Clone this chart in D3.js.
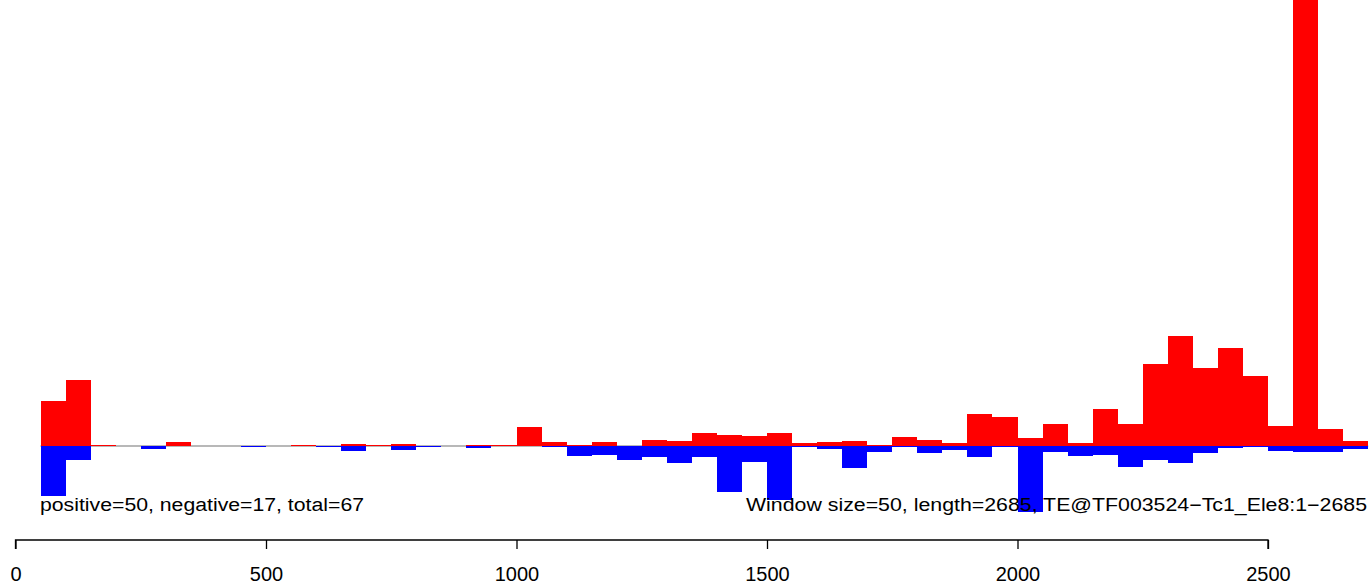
<!DOCTYPE html>
<html>
<head>
<meta charset="utf-8">
<script src="https://cdn.jsdelivr.net/npm/d3@7"></script>
<style>
html,body{margin:0;padding:0;background:#fff;}
svg{display:block;font-family:"Liberation Sans",Arial,Helvetica,sans-serif;}
</style>
</head>
<body>
<svg id="chart" width="1372" height="586"></svg>
<script>
// window starts (bp), window size 50
const binStarts = [0,50,100,150,200,250,300,350,400,450,500,550,600,650,700,750,800,850,900,950,
  1000,1050,1100,1150,1200,1250,1300,1350,1400,1450,1500,1550,1600,1650,1700,1750,1800,1850,1900,1950,
  2000,2050,2100,2150,2200,2250,2300,2350,2400,2450,2500,2550,2600,2650];
const windowSize = 50;
// positive-strand signal (up, red)
const positiveVals = [0,45,66,1,0,0,4,0,0,0,0,1,0,2,1,2,0,0,1,1,
  19,4,1,4,0,6,5,13,11,10,13,3,4,5,1,9,6,3,32,29,
  8,22,3,37,22,82,110,78,98,70,20,500,17,5];
// negative-strand signal (down, blue)
const negativeVals = [0,50,14,0,0,3,0,0,0,1,0,0,1,5,0,4,1,0,2,0,
  0,1,10,9,14,11,17,11,46,16,54,1,3,22,6,1,7,4,11,1,
  66,6,10,9,21,14,17,7,2,1,5,6,6,3];
const xTicks = [0,500,1000,1500,2000,2500];
const seqLength = 2685;
const leftLabel = "positive=50, negative=17, total=67";
const rightLabel = "Window size=50, length=2685, TE@TF003524\u2212Tc1_Ele8:1\u22122685";

const svg = d3.select("#chart");
const x = d3.scaleLinear().domain([0, 2500]).range([15.5, 1268]);
const y = d3.scaleLinear().domain([-140, 446]).range([586, 0]);

const data = binStarts.map((s,i)=>({s, pos:positiveVals[i], neg:negativeVals[i]}));

const plot = svg.append("g");
plot.append("defs").append("clipPath").attr("id","clip")
  .append("rect").attr("x",0).attr("y",0).attr("width",1372).attr("height",586);
const g = plot.append("g").attr("clip-path","url(#clip)");

// baseline
g.append("line")
  .attr("x1", x(50)).attr("x2", x(2700))
  .attr("y1", y(0)).attr("y2", y(0))
  .attr("stroke", "#a0a0a0").attr("stroke-width", 1.5);

g.selectAll("rect.pos").data(data.filter(d=>d.pos>0)).join("rect")
  .attr("class","pos")
  .attr("x", d=>x(d.s)).attr("width", d=>x(d.s+windowSize)-x(d.s))
  .attr("y", d=>y(d.pos)).attr("height", d=>y(0)-y(d.pos))
  .attr("fill","#ff0000").attr("shape-rendering","crispEdges");

g.selectAll("rect.neg").data(data.filter(d=>d.neg>0)).join("rect")
  .attr("class","neg")
  .attr("x", d=>x(d.s)).attr("width", d=>x(d.s+windowSize)-x(d.s))
  .attr("y", y(0)).attr("height", d=>y(-d.neg)-y(0))
  .attr("fill","#0000ff").attr("shape-rendering","crispEdges");

// annotation texts
svg.append("text").attr("x", 40).attr("y", 511)
  .attr("font-size", 18).attr("fill","#000")
  .attr("textLength", 324).attr("lengthAdjust","spacingAndGlyphs")
  .text(leftLabel);
svg.append("text").attr("x", 746).attr("y", 511)
  .attr("font-size", 18).attr("fill","#000")
  .attr("textLength", 621).attr("lengthAdjust","spacingAndGlyphs")
  .text(rightLabel);

// x axis
const axis = d3.axisBottom(x).tickValues(xTicks).tickSize(9).tickPadding(6).tickFormat(d3.format("d"));
const ax = svg.append("g").attr("transform","translate(0,540)").call(axis);
ax.select(".domain").attr("stroke","#000").attr("stroke-width",1.3)
  .attr("d", `M${x(0)},9V0H${x(2500)}V9`);
ax.selectAll(".tick line").attr("stroke","#000").attr("stroke-width",1.3);
ax.selectAll(".tick text").attr("font-size", 20).attr("fill","#000")
  .attr("dy", null).attr("y", 41);
</script>
</body>
</html>
